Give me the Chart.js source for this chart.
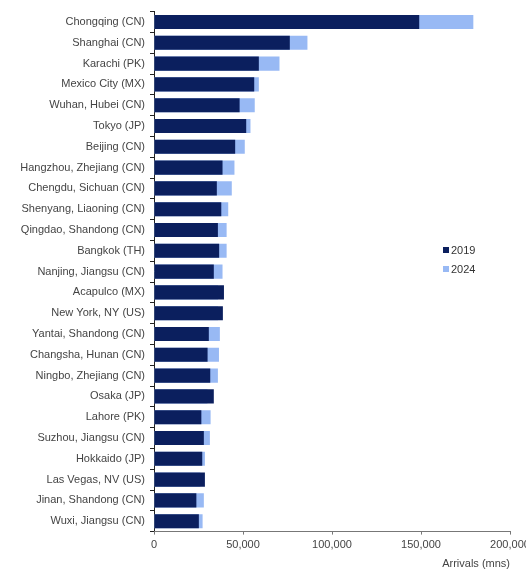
<!DOCTYPE html>
<html>
<head>
<meta charset="utf-8">
<script src="https://cdn.jsdelivr.net/npm/chart.js@4.4.1/dist/chart.umd.min.js"></script>
<style>
  body { margin: 0; background: #fff; }
  #wrap { position: relative; width: 526px; height: 571px; }
  #legend { position: absolute; left: 443px; top: 242px; font: 11px "Liberation Sans", Arial, sans-serif; color: #333; }
  #legend div { height: 19px; line-height: 16px; }
  #legend span.box { display: inline-block; width: 6px; height: 6px; margin-right: 2px; vertical-align: 1px; }
</style>
</head>
<body>
<div id="wrap">
  <canvas id="myChart" width="526" height="571"></canvas>
  <div id="legend"></div>
</div>
<script>
const cities = [
  'Chongqing (CN)', 'Shanghai (CN)', 'Karachi (PK)', 'Mexico City (MX)', 'Wuhan, Hubei (CN)',
  'Tokyo (JP)', 'Beijing (CN)', 'Hangzhou, Zhejiang (CN)', 'Chengdu, Sichuan (CN)', 'Shenyang, Liaoning (CN)',
  'Qingdao, Shandong (CN)', 'Bangkok (TH)', 'Nanjing, Jiangsu (CN)', 'Acapulco (MX)', 'New York, NY (US)',
  'Yantai, Shandong (CN)', 'Changsha, Hunan (CN)', 'Ningbo, Zhejiang (CN)', 'Osaka (JP)', 'Lahore (PK)',
  'Suzhou, Jiangsu (CN)', 'Hokkaido (JP)', 'Las Vegas, NV (US)', 'Jinan, Shandong (CN)', 'Wuxi, Jiangsu (CN)'
];

const arrivals2019 = [
  149000, 76300, 58900, 56300, 48100,
  51800, 45600, 38500, 35300, 37800,
  35900, 36600, 33600, 39300, 38700,
  30800, 30100, 31600, 33600, 26600,
  28000, 27100, 28600, 23800, 25200
];

// 2024 drawn behind 2019, so where it is lower it is hidden
const arrivals2024 = [
  179400, 86200, 70500, 58900, 56600,
  54200, 51000, 45200, 43700, 41700,
  40800, 40800, 38500, 36000, 36000,
  37000, 36500, 35900, 30000, 31800,
  31400, 28600, 26000, 28000, 27300
];

const xTicks = [0, 50000, 100000, 150000, 200000];

const navy = '#0b1f5e';
const lightBlue = '#98b9f4';
const textColor = '#444';
const font = { family: '"Liberation Sans", Arial, sans-serif', size: 11 };

const datasets = [
  { label: '2019', data: arrivals2019, backgroundColor: navy, order: 0 },
  { label: '2024', data: arrivals2024, backgroundColor: lightBlue, order: 1 }
];

const ctx = document.getElementById('myChart').getContext('2d');

new Chart(ctx, {
  type: 'bar',
  data: { labels: cities, datasets: datasets },
  options: {
    indexAxis: 'y',
    responsive: false,
    animation: false,
    barPercentage: 0.68,
    categoryPercentage: 1,
    layout: { padding: { top: 10, left: 0, right: 0, bottom: 0 } },
    plugins: {
      legend: { display: false },
      tooltip: { enabled: false }
    },
    scales: {
      y: {
        stacked: true,
        afterFit: (axis) => { axis.width = 154; },
        ticks: { color: textColor, font: font, padding: 5, autoSkip: false },
        grid: { drawOnChartArea: false, offset: true, tickLength: 4, color: '#222' },
        border: { color: '#222', width: 1 }
      },
      x: {
        stacked: false,
        min: 0,
        max: 200000,
        afterBuildTicks: (axis) => { axis.ticks = xTicks.map(v => ({ value: v })); },
        // let the last tick label run off the canvas edge like the original
        afterFit: (axis) => { axis.paddingRight = 16; },
        ticks: {
          color: textColor,
          font: font,
          padding: 4,
          callback: (v) => v.toLocaleString('en-US')
        },
        grid: { drawOnChartArea: false, tickLength: 3, color: '#777' },
        border: { color: '#777', width: 1 },
        title: {
          display: true,
          text: 'Arrivals (mns)',
          align: 'end',
          color: textColor,
          font: font,
          padding: { top: 2, bottom: 0 }
        }
      }
    }
  }
});

const legendEl = document.getElementById('legend');
datasets.forEach(ds => {
  const row = document.createElement('div');
  row.innerHTML = '<span class="box" style="background:' + ds.backgroundColor + '"></span>' + ds.label;
  legendEl.appendChild(row);
});
</script>
</body>
</html>
